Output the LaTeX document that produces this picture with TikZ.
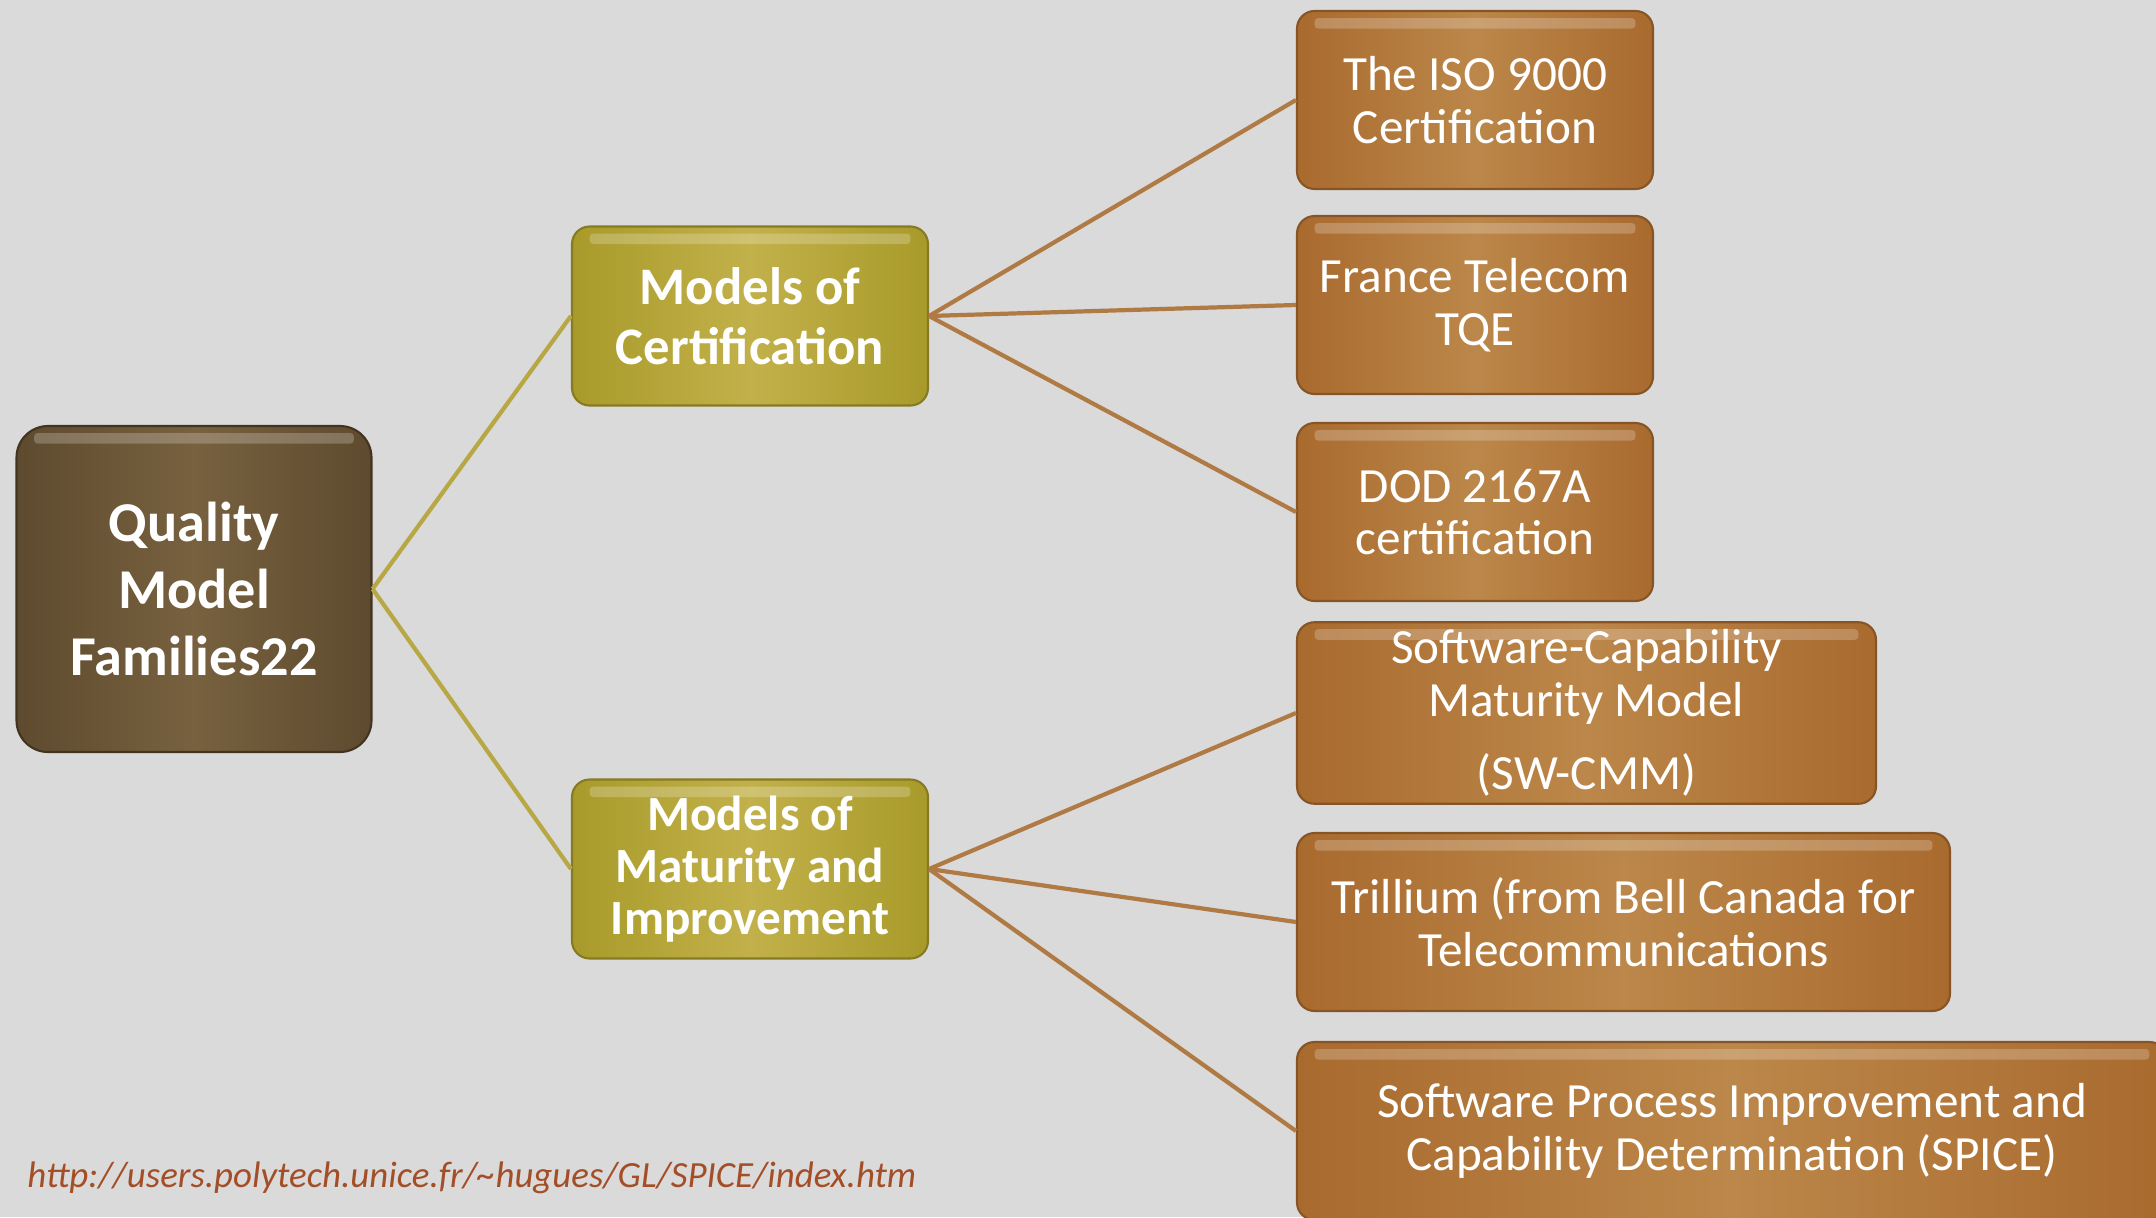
\documentclass[tikz,border=0pt]{standalone}
\usepackage{fontspec}
\setmainfont{Carlito}
\usepackage{tikz}
\usetikzlibrary{shapes.geometric, arrows}

\definecolor{bggray}{HTML}{DADADA}
\definecolor{rootdark}{HTML}{5E4A2E}
\definecolor{rootlight}{HTML}{77613F}
\definecolor{olivedark}{HTML}{A89A2A}
\definecolor{olivelight}{HTML}{C2B14A}
\definecolor{leafdark}{HTML}{A96A2E}
\definecolor{leaflight}{HTML}{BC874A}
\definecolor{oliveline}{HTML}{B8A845}
\definecolor{leafline}{HTML}{B07A45}
\definecolor{urlred}{HTML}{A34E26}

\tikzset{
	gloss/.style={path picture={
		\fill[white, opacity=0.22, rounded corners=1pt] ([xshift=5pt,yshift=-2pt]path picture bounding box.north west)
			rectangle ([xshift=-5pt,yshift=-5pt]path picture bounding box.north east);}},
	rootbox/.style={draw=rootdark!70!black, line width=0.6pt, rounded corners=9pt, gloss,
		left color=rootdark, right color=rootdark, middle color=rootlight,
		text=white, font=\fontsize{16}{19}\selectfont\bfseries, align=center,
		minimum width=3.55cm, minimum height=3.26cm, inner sep=2pt},
	midbox/.style={draw=olivedark!80!black, line width=0.6pt, rounded corners=5pt, gloss,
		left color=olivedark, right color=olivedark, middle color=olivelight,
		text=white, font=\fontsize{15}{17}\selectfont\bfseries, align=center,
		minimum width=3.56cm, minimum height=1.79cm, inner sep=2pt},
	leafbox/.style={draw=leafdark!80!black, line width=0.6pt, rounded corners=5pt, gloss,
		left color=leafdark, right color=leafdark, middle color=leaflight,
		text=white, font=\fontsize{14}{15}\selectfont, align=center,
		minimum height=1.78cm, inner sep=2pt},
	toplink/.style={oliveline, line width=1.2pt},
	sublink/.style={leafline, line width=1.2pt}
}

\begin{document}
\begin{tikzpicture}
	\fill[bggray] (0,0) rectangle (21.56,12.17);
	\useasboundingbox (0,0) rectangle (21.56,12.17);
	\clip (0,0) rectangle (21.56,12.17);

	\node[rootbox] (quality) at (1.94,6.28) {Quality\\Model\\Families22};

	\node[midbox] (certif) at (7.50,9.01) {Models of\\Certification};
	\node[midbox, font=\fontsize{14}{14.8}\selectfont\bfseries] (maturity) at (7.50,3.48) {Models of\\Maturity and\\Improvement};

	\node[leafbox, minimum width=3.56cm] (iso) at (14.75,11.17) {The ISO 9000\\Certification};
	\node[leafbox, minimum width=3.56cm] (telecom) at (14.75,9.12) {France Telecom\\TQE};
	\node[leafbox, minimum width=3.56cm] (dod) at (14.75,7.05) {DOD 2167A\\certification};

	\node[leafbox, minimum width=5.79cm] (swcmm) at (15.865,5.04) {Software-Capability\\Maturity Model\\[6pt](SW-CMM)};
	\node[leafbox, minimum width=6.53cm] (trillium) at (16.235,2.95) {Trillium (from Bell Canada for\\Telecommunications};
	\node[leafbox, minimum width=8.7cm] (spice) at (17.32,0.86) {Software Process Improvement and\\Capability Determination (SPICE)};

	\draw[toplink] (quality.east) -- (certif.west);
	\draw[toplink] (quality.east) -- (maturity.west);

	\draw[sublink] (certif.east) -- (iso.west);
	\draw[sublink] (certif.east) -- (telecom.west);
	\draw[sublink] (certif.east) -- (dod.west);

	\draw[sublink] (maturity.east) -- (swcmm.west);
	\draw[sublink] (maturity.east) -- (trillium.west);
	\draw[sublink] (maturity.east) -- (spice.west);

	\node[anchor=west, text=urlred, font=\fontsize{10.5}{12}\selectfont\itshape] (url) at (0.15,0.39)
		{http://users.polytech.unice.fr/\textasciitilde hugues/GL/SPICE/index.htm};
\end{tikzpicture}
\end{document}
